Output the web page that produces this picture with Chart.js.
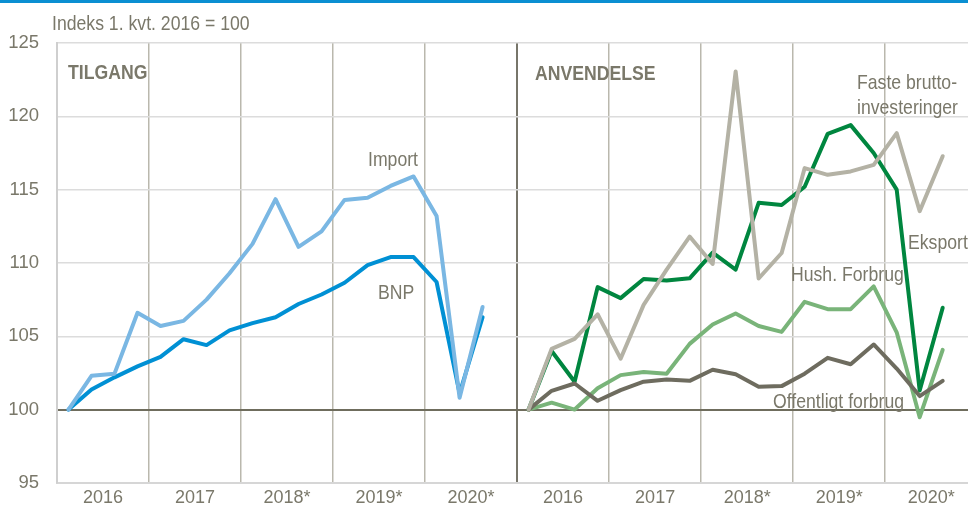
<!DOCTYPE html>
<html>
<head>
<meta charset="utf-8">
<script src="https://cdn.jsdelivr.net/npm/chart.js@4.4.1/dist/chart.umd.min.js"></script>
<style>
  html, body { margin: 0; padding: 0; background: #fff; }
  #wrap { width: 968px; height: 512px; position: relative; }
</style>
</head>
<body>
<div id="wrap"><canvas id="chart" width="968" height="512"></canvas></div>
<script>
// === Data: quarters 2016 K1 .. 2020 K3, index 1. kvt. 2016 = 100 ===
const yearLabels = ["2016", "2017", "2018*", "2019*", "2020*"];

// TILGANG
const importVals = [100, 102.3, 102.45, 106.6, 105.7, 106.05, 107.5, 109.3, 111.3, 114.35,
  111.1, 112.15, 114.3, 114.45, 115.25, 115.9, 113.2, 100.8, 107.0];
const bnpVals = [100, 101.37, 102.2, 102.95, 103.6, 104.8, 104.4, 105.4, 105.9, 106.3,
  107.2, 107.85, 108.65, 109.85, 110.4, 110.4, 108.7, 101.1, 106.3];

// ANVENDELSE
const eksportVals = [100, 104.0, 101.9, 108.35, 107.6, 108.9, 108.8, 108.95, 110.7, 109.55,
  114.1, 113.95, 115.2, 118.8, 119.4, 117.5, 115.0, 101.3, 106.95];
const hushVals = [100, 100.47, 100.0, 101.45, 102.35, 102.57, 102.45, 104.48, 105.8, 106.55,
  105.7, 105.3, 107.35, 106.85, 106.85, 108.4, 105.27, 99.48, 104.07];
const offentligVals = [100, 101.28, 101.78, 100.6, 101.33, 101.9, 102.05, 101.96, 102.72, 102.41,
  101.55, 101.6, 102.45, 103.53, 103.09, 104.44, 102.8, 100.92, 101.96];
const fasteVals = [100, 104.14, 104.82, 106.5, 103.47, 107.14, 109.55, 111.8, 109.93, 123.06,
  108.94, 110.68, 116.47, 116.01, 116.24, 116.69, 118.85, 113.53, 117.28];

const yTicks = [95, 100, 105, 110, 115, 120, 125];

const FONT = "'Liberation Sans', Arial, sans-serif";
const TXT = "#7a786a";

// venstre panel starter i 0, højre panel i 20 (en kvartalsenhed pr. punkt)
function toPoints(values, offset) {
  return values.map((v, i) => ({ x: offset + i + 0.5, y: v }));
}

function line(label, values, offset, color) {
  return {
    label: label,
    data: toPoints(values, offset),
    borderColor: color,
    borderWidth: 4,
    pointRadius: 0,
    tension: 0,
    fill: false,
    borderJoinStyle: "round",
    borderCapStyle: "round"
  };
}

// smal tekst: Liberation Sans presset sammen vandret
function narrowText(ctx, text, x, y, bold) {
  ctx.save();
  ctx.font = (bold ? "bold " : "") + "21px " + FONT;
  ctx.translate(x, y);
  ctx.scale(0.84, 1);
  ctx.fillText(text, 0, 0);
  ctx.restore();
}

// tekster og den blå streg i toppen
const textPlugin = {
  id: "texts",
  beforeDraw(chart) {
    const ctx = chart.ctx;
    ctx.save();
    ctx.fillStyle = "#0a8fd2";
    ctx.fillRect(0, 0, chart.width, 3);
    ctx.restore();
  },
  afterDraw(chart) {
    const ctx = chart.ctx;
    ctx.save();
    ctx.fillStyle = TXT;
    ctx.textBaseline = "middle";
    ctx.textAlign = "left";
    narrowText(ctx, "Indeks 1. kvt. 2016 = 100", 52, 24);

    narrowText(ctx, "TILGANG", 68, 73, true);
    narrowText(ctx, "ANVENDELSE", 535, 74, true);

    narrowText(ctx, "Import", 368, 160);
    narrowText(ctx, "BNP", 378, 293);
    narrowText(ctx, "Faste brutto-", 857, 83);
    narrowText(ctx, "investeringer", 857, 108);
    narrowText(ctx, "Eksport", 908, 243);
    narrowText(ctx, "Hush. Forbrug", 791, 275);
    narrowText(ctx, "Offentligt forbrug", 773, 402);
    ctx.restore();
  }
};

new Chart(document.getElementById("chart"), {
  type: "line",
  data: {
    datasets: [
      // første datasæt tegnes øverst
      line("Import", importVals, 0, "#7ab7e3"),
      line("BNP", bnpVals, 0, "#0090d4"),
      line("Faste bruttoinvesteringer", fasteVals, 20, "#b4b2a5"),
      line("Offentligt forbrug", offentligVals, 20, "#6e6c5f"),
      line("Hush. Forbrug", hushVals, 20, "#79b479"),
      line("Eksport", eksportVals, 20, "#00863f")
    ]
  },
  options: {
    responsive: false,
    animation: false,
    layout: { padding: { top: 43, left: 0, right: 0, bottom: 0 } },
    plugins: { legend: { display: false }, tooltip: { enabled: false } },
    scales: {
      x: {
        type: "linear",
        min: 0,
        max: 39.6,
        afterBuildTicks(scale) {
          const t = [];
          for (let v = 0; v <= 38; v += 2) t.push({ value: v });
          scale.ticks = t;
        },
        afterFit(scale) { scale.height = 25; },
        ticks: {
          autoSkip: false,
          maxRotation: 0,
          padding: 4,
          color: TXT,
          font: { family: FONT, size: 18 },
          callback(value) {
            if (value % 4 !== 2) return "";
            return yearLabels[Math.floor((value % 20) / 4)];
          }
        },
        grid: {
          drawTicks: false,
          color(c) {
            const v = c.tick && c.tick.value;
            if (v === 20) return "#77756a";
            if (v % 4 === 0 && v > 0) return "#bab8ad";
            return "rgba(0,0,0,0)";
          },
          lineWidth(c) {
            return c.tick && c.tick.value === 20 ? 2 : 1.5;
          }
        },
        border: { color: "#d6d6d6", width: 2 }
      },
      y: {
        min: 95,
        max: 125,
        afterBuildTicks(scale) {
          scale.ticks = yTicks.map(v => ({ value: v }));
        },
        afterFit(scale) { scale.width = 57; },
        ticks: {
          padding: 18,
          color: TXT,
          font: { family: FONT, size: 18.5 }
        },
        grid: {
          drawTicks: false,
          color(c) {
            return c.tick && c.tick.value === 100 ? "#6f6d5d" : "#dcdcdc";
          },
          lineWidth(c) {
            return c.tick && c.tick.value === 100 ? 2 : 1.5;
          }
        },
        border: { color: "#cfcfcf", width: 2 }
      }
    }
  },
  plugins: [textPlugin]
});
</script>
</body>
</html>
